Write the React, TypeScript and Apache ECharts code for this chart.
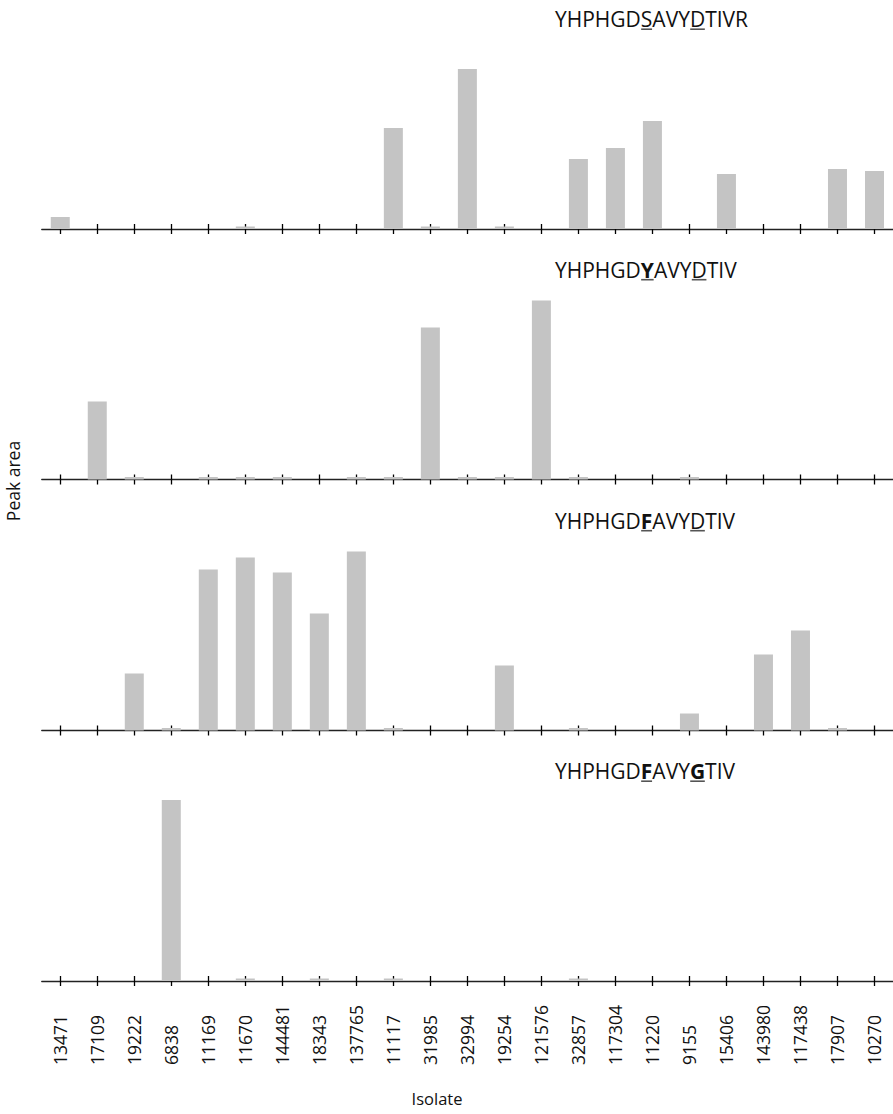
import React, { useEffect, useRef } from 'react';
import * as echarts from 'echarts';

const isolates = ['13471', '17109', '19222', '6838', '11169', '11670', '144481', '18343', '137765', '11117', '31985', '32994', '19254', '121576', '32857', '117304', '11220', '9155', '15406', '143980', '117438', '17907', '10270'];

const peakSAVYD = [12, 0, 0, 0, 0, 2.5, 0, 0, 0, 101, 2.5, 160, 2.5, 0, 70, 81, 108, 0, 55, 0, 0, 60, 58];
const peakYAVYD = [0, 78, 2.5, 0, 2.5, 2.5, 2.5, 0, 2.5, 2.5, 152, 2.5, 2.5, 179, 2.5, 0, 0, 2.5, 0, 0, 0, 0, 0];
const peakFAVYD = [0, 0, 57, 2.5, 161, 173, 158, 117, 179, 2.5, 0, 0, 65, 0, 2.5, 0, 0, 17, 0, 76, 100, 2.5, 0];
const peakFAVYG = [0, 0, 0, 181, 0, 2.5, 0, 2.5, 0, 2.5, 0, 0, 0, 0, 2.5, 0, 0, 0, 0, 0, 0, 0, 0];

const panelValues = [peakSAVYD, peakYAVYD, peakFAVYD, peakFAVYG];

type Seg = { t: string; u?: boolean; b?: boolean };
const titleSAVYD: Seg[] = [{ t: 'YHPHGD' }, { t: 'S', u: true }, { t: 'AVY' }, { t: 'D', u: true }, { t: 'TIVR' }];
const titleYAVYD: Seg[] = [{ t: 'YHPHGD' }, { t: 'Y', u: true, b: true }, { t: 'AVY' }, { t: 'D', u: true }, { t: 'TIV' }];
const titleFAVYD: Seg[] = [{ t: 'YHPHGD' }, { t: 'F', u: true, b: true }, { t: 'AVY' }, { t: 'D', u: true }, { t: 'TIV' }];
const titleFAVYG: Seg[] = [{ t: 'YHPHGD' }, { t: 'F', u: true, b: true }, { t: 'AVY' }, { t: 'G', u: true, b: true }, { t: 'TIV' }];
const panelTitles = [titleSAVYD, titleYAVYD, titleFAVYD, titleFAVYG];

const yLabel = 'Peak area';
const xLabel = 'Isolate';

const FONT = 'Open Sans';
const AXIS_Y = [229, 479.5, 730.5, 981];
const PLOT_H = 185;
const LEFT = 41.75;
const BAND = 37.11;
const TITLE_SIZE = 21;
const TITLE_X = 555;

let measureCtx: CanvasRenderingContext2D | null = null;
function measure(text: string, bold: boolean) {
  const fmt: any = (echarts as any).format;
  const font = `${bold ? 'bold' : 'normal'} ${TITLE_SIZE}px ${FONT}`;
  if (fmt && typeof fmt.getTextRect === 'function') {
    try {
      const r = fmt.getTextRect(text, font);
      if (r && r.width > 0) return r.width;
    } catch (e) { /* fall back */ }
  }
  if (!measureCtx) measureCtx = document.createElement('canvas').getContext('2d');
  measureCtx!.font = font;
  return measureCtx!.measureText(text).width;
}

export default function App() {
  const ref = useRef<HTMLDivElement>(null);
  useEffect(() => {
    if (!ref.current) return;
    const chart = echarts.init(ref.current, undefined, { renderer: 'svg' });

    const grids: any[] = [];
    const xAxes: any[] = [];
    const yAxes: any[] = [];
    const series: any[] = [];
    const graphics: any[] = [];

    panelValues.forEach((vals, i) => {
      grids.push({ left: LEFT, width: BAND * isolates.length, top: AXIS_Y[i] - PLOT_H, height: PLOT_H, containLabel: false });
      const isLast = i === panelValues.length - 1;
      xAxes.push({
        type: 'category', gridIndex: i, data: isolates, position: 'bottom',
        axisLine: { show: true, lineStyle: { color: '#222', width: 1.3 } },
        axisTick: { show: true, interval: 0, alignWithLabel: true, length: 5, inside: false, lineStyle: { color: '#000', width: 1.3 } },
        axisLabel: isLast ? {
          show: true, interval: 0, rotate: 90, align: 'left', verticalAlign: 'middle', margin: 84,
          fontFamily: FONT, fontSize: 17.5, color: '#111',
        } : { show: false, interval: 0 },
        splitLine: { show: false },
      });
      xAxes.push({
        type: 'category', gridIndex: i, data: isolates, position: 'bottom',
        axisLine: { show: false },
        axisTick: { show: true, interval: 0, alignWithLabel: true, length: 5, inside: true, lineStyle: { color: '#000', width: 1.3 } },
        axisLabel: { show: false, interval: 0 },
        splitLine: { show: false },
      });
      yAxes.push({ type: 'value', gridIndex: i, min: 0, max: PLOT_H, show: false, splitLine: { show: false } });
      series.push({
        type: 'bar', xAxisIndex: i * 2, yAxisIndex: i, data: vals, barWidth: 19,
        itemStyle: { color: '#c4c4c4' }, z: 1,
      });

      const cy = AXIS_Y[i] - 210;
      const uy = AXIS_Y[i] - 199.8;
      let x = TITLE_X;
      panelTitles[i].forEach((s) => {
        const w = measure(s.t, !!s.b);
        graphics.push({
          type: 'text', x, y: cy, z: 10,
          style: {
            text: s.t, fontFamily: FONT, fontSize: TITLE_SIZE, fontWeight: s.b ? 'bold' : 'normal',
            fill: '#111', align: 'left', verticalAlign: 'middle',
          },
        });
        if (s.u) {
          graphics.push({
            type: 'line', z: 10, shape: { x1: x + 0.3, y1: uy, x2: x + w - 0.3, y2: uy },
            style: { stroke: '#555', lineWidth: 1.6 },
          });
        }
        x += w;
      });
    });

    graphics.push({
      type: 'text', x: 13, y: 481, rotation: Math.PI / 2,
      style: { text: yLabel, fontFamily: FONT, fontSize: 17.5, fill: '#111', align: 'center', verticalAlign: 'middle' },
    });
    graphics.push({
      type: 'text', x: 437, y: 1098,
      style: { text: xLabel, fontFamily: FONT, fontSize: 16.5, fill: '#111', align: 'center', verticalAlign: 'middle' },
    });

    chart.setOption({
      animation: false,
      grid: grids,
      xAxis: xAxes,
      yAxis: yAxes,
      series,
      graphic: graphics,
    });
    return () => chart.dispose();
  }, []);
  return <div ref={ref} style={{ position: 'absolute', left: 0, top: 0, width: 893, height: 1114, background: '#fff' }} />;
}
